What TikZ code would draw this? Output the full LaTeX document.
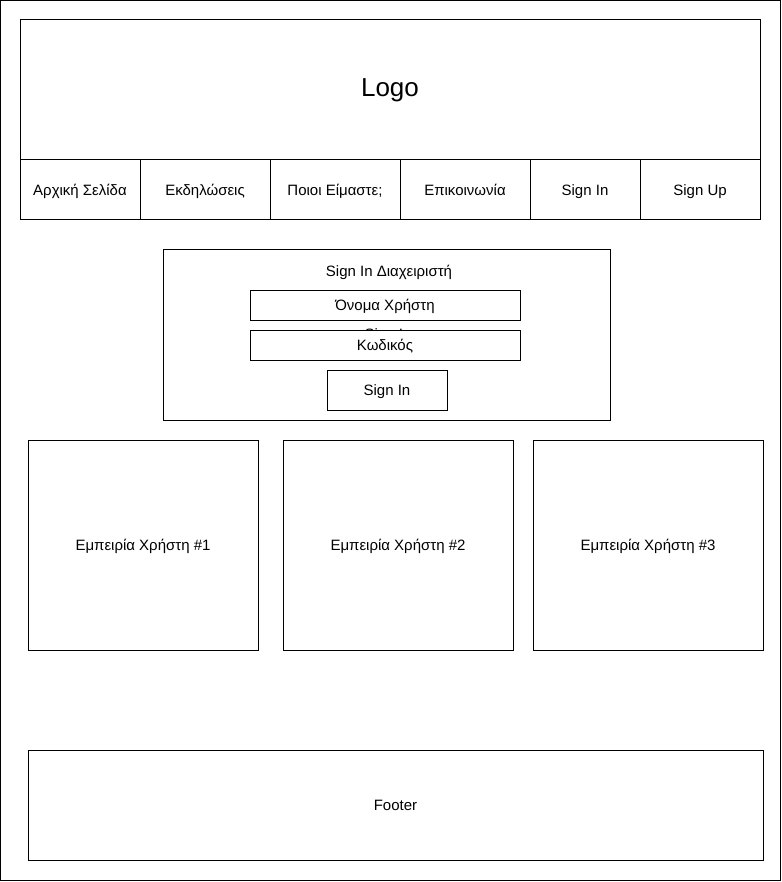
\documentclass[tikz,border=0pt]{standalone}
\usepackage{fontspec}
\setmainfont{Liberation Sans}

\begin{document}
\begin{tikzpicture}[x=1pt,y=-1pt,line width=1pt,
  box/.style={draw,rectangle,inner sep=0pt,fill=white,text height=14pt,text depth=3pt,font=\fontsize{15}{17}\selectfont},
  label/.style={anchor=base,inner sep=0pt,font=\fontsize{15}{17}\selectfont}]
  \useasboundingbox (0,0) rectangle (781,882);
  \node[box,minimum width=780pt,minimum height=880pt] (page) at (390.5,440.5) {};
  \node[box,minimum width=740pt,minimum height=140pt,text height=17pt,text depth=4pt,font=\fontsize{26}{30}\selectfont] (logo) at (390,90) {Logo};
   \foreach \x/\w/\t/\n in {80/120/{Αρχική Σελίδα}/home,205/130/Εκδηλώσεις/events,335/130/{Ποιοι Είμαστε;}/about,465/130/Επικοινωνία/contact,585/110/{Sign In}/signin,700/120/{Sign Up}/signup}
   {
    \node[box,minimum width=\w pt,minimum height=60pt] (\n) at (\x,190) {\t};
   }
  \node[box,minimum width=447pt,minimum height=170pt] (admin) at (386.5,335) {};
  \node[label] (title) at (389,276.5) {Sign In Διαχειριστή};
  \node[box,minimum width=270pt,minimum height=30pt] (user) at (385,305) {Όνομα Χρήστη};
  \node[label] (hidden) at (388,339) {Sign In};
  \node[box,minimum width=270pt,minimum height=30pt] (pass) at (385,345) {Κωδικός};
  \node[box,minimum width=120pt,minimum height=40pt] (button) at (387,390) {Sign In};
   \foreach \x/\i in {143/1,398/2,648/3}
   {
    \node[box,minimum width=230pt,minimum height=210pt] (exp\i) at (\x,545) {Εμπειρία Χρήστη \#\i};
   }
  \node[box,minimum width=735pt,minimum height=110pt] (footer) at (395.5,805) {Footer};
\end{tikzpicture}
\end{document}
